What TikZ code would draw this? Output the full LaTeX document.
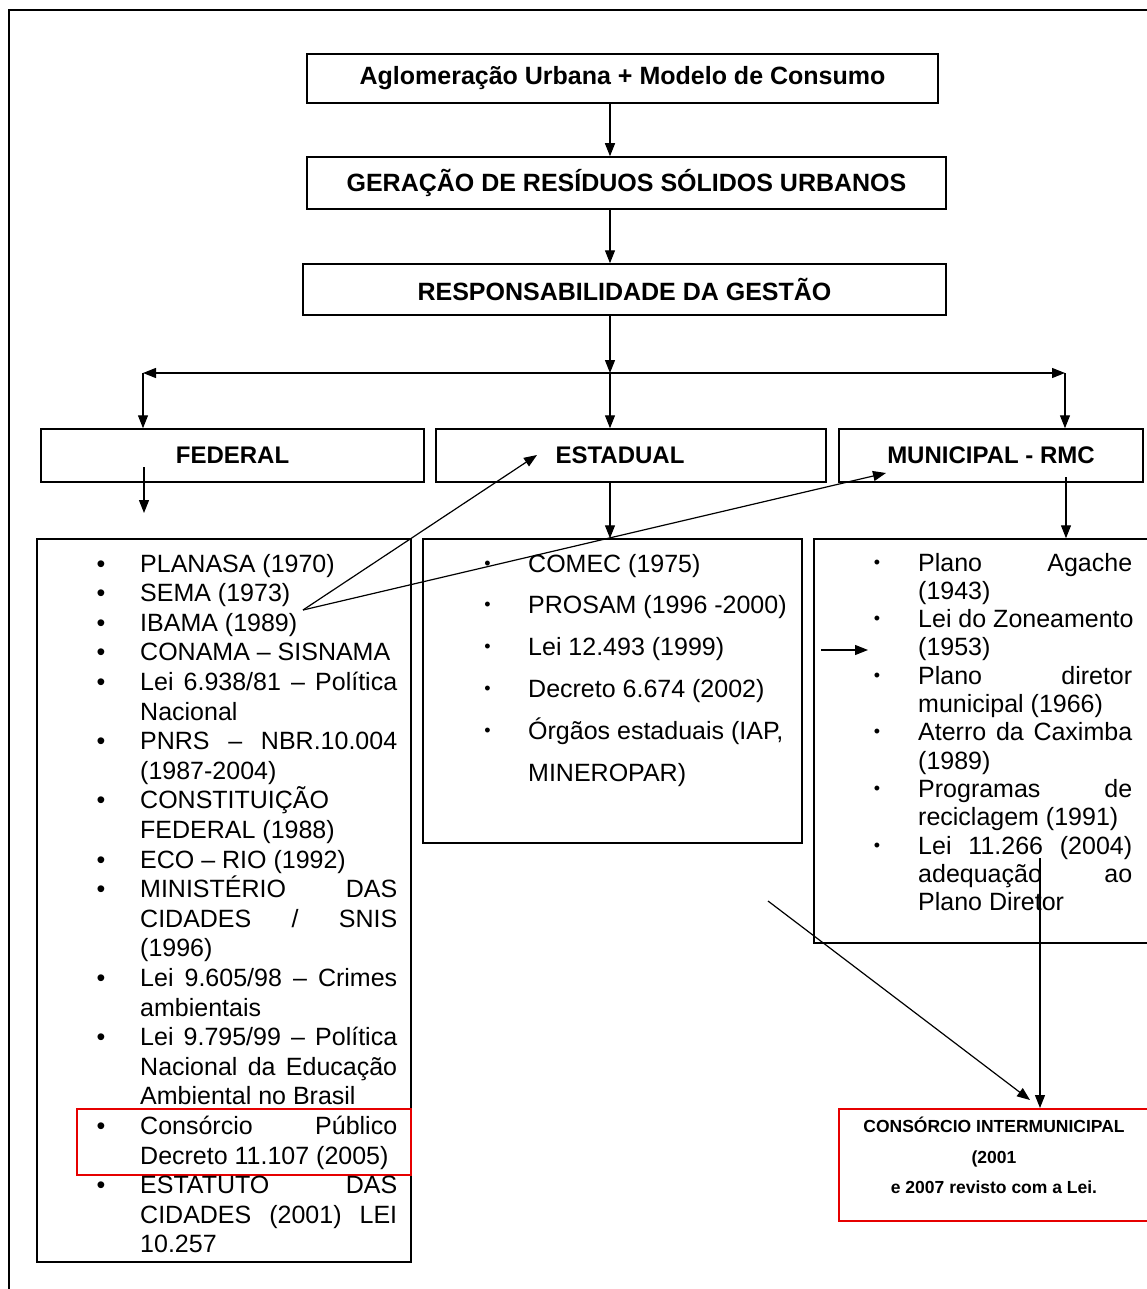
\documentclass[tikz,border=0pt]{standalone}
\usepackage{fontspec}
\setmainfont{Liberation Sans}
\usetikzlibrary{arrows.meta}
\definecolor{boxred}{RGB}{230,0,0}
\begin{document}
\begin{tikzpicture}[x=1pt,y=-1pt,
  link/.style={line width=1.2pt,-{Triangle[length=13pt,width=10pt]}},
  twoway/.style={line width=1.2pt,{Triangle[length=13pt,width=10pt]}-{Triangle[length=13pt,width=10pt]}},
  head/.style={draw,line width=1.5pt,inner sep=0pt,font=\fontsize{25}{30}\selectfont\bfseries},
  tier/.style={draw,line width=1.5pt,inner sep=0pt,font=\fontsize{24}{29}\selectfont\bfseries},
  panel/.style={draw,line width=1.5pt,inner sep=0pt},
  redpanel/.style={draw=boxred,inner sep=0pt},
  item/.style={anchor=base west,inner sep=0pt,font=\fontsize{25}{30}\selectfont},
  bigdot/.style={anchor=base,inner sep=0pt,font=\fontsize{25}{30}\selectfont},
  smalldot/.style={anchor=base,inner sep=0pt,font=\fontsize{18}{20}\selectfont},
  contxt/.style={anchor=base,inner sep=0pt,font=\fontsize{17.5}{20}\selectfont\bfseries}]
\useasboundingbox (0,0) rectangle (1146,1289);
\fill[white] (0,0) rectangle (1146,1289);

% page frame
\draw[line width=2.5pt] (9,1295) -- (9,10) -- (1150,10);

% top chain
\node[head,minimum width=631pt,minimum height=49pt] (agl) at (622.5,78.5) {Aglomeração Urbana + Modelo de Consumo};
\node[head,minimum width=639pt,minimum height=52pt] (ger) at (626.5,183) {GERAÇÃO DE RESÍDUOS SÓLIDOS URBANOS};
\node[head,minimum width=643pt,minimum height=51pt] (res) at (624.5,289.5) {RESPONSABILIDADE DA GESTÃO};

% the three levels
\node[tier,minimum width=383pt,minimum height=53pt] (fed) at (232.5,455.5) {FEDERAL};
\node[tier,minimum width=390pt,minimum height=53pt] (est) at (631,455.5) {\hspace*{-22pt}ESTADUAL};
\node[tier,minimum width=304pt,minimum height=53pt] (mun) at (991,455.5) {MUNICIPAL - RMC};

% list panels
\node[panel,minimum width=374pt,minimum height=723pt] (fedlist) at (224,900.5) {};
\node[panel,minimum width=379pt,minimum height=304pt] (estlist) at (612.5,691) {};
\node[panel,minimum width=336pt,minimum height=404pt] (munlist) at (982,741) {};
\node[redpanel,line width=1.3pt,minimum width=334pt,minimum height=66pt] (consp) at (244,1142) {};
\node[redpanel,line width=2pt,minimum width=311pt,minimum height=112pt] (cons) at (994.5,1165) {};

% federal items
\node[bigdot] (fb1) at (101,572) {•};
\node[item] (f1) at (140,572) {PLANASA (1970)};
\node[bigdot] (fb2) at (101,601.6) {•};
\node[item] (f2) at (140,601.6) {SEMA (1973)};
\node[bigdot] (fb3) at (101,631.2) {•};
\node[item] (f3) at (140,631.2) {IBAMA (1989)};
\node[bigdot] (fb4) at (101,660.8) {•};
\node[item] (f4) at (140,660.8) {CONAMA – SISNAMA};
\node[bigdot] (fb5) at (101,690.4) {•};
\node[item] (f5) at (140,690.4) {\makebox[257pt][s]{Lei 6.938/81 – Política}};
\node[item] (f6) at (140,720) {Nacional};
\node[bigdot] (fb7) at (101,749.6) {•};
\node[item] (f7) at (140,749.6) {\makebox[257pt][s]{PNRS – NBR.10.004}};
\node[item] (f8) at (140,779.2) {(1987-2004)};
\node[bigdot] (fb9) at (101,808.8) {•};
\node[item] (f9) at (140,808.8) {CONSTITUIÇÃO};
\node[item] (f10) at (140,838.4) {FEDERAL (1988)};
\node[bigdot] (fb11) at (101,868) {•};
\node[item] (f11) at (140,868) {ECO – RIO (1992)};
\node[bigdot] (fb12) at (101,897.6) {•};
\node[item] (f12) at (140,897.6) {\makebox[257pt][s]{MINISTÉRIO DAS}};
\node[item] (f13) at (140,927.2) {\makebox[257pt][s]{CIDADES / SNIS}};
\node[item] (f14) at (140,956.8) {(1996)};
\node[bigdot] (fb15) at (101,986.4) {•};
\node[item] (f15) at (140,986.4) {\makebox[257pt][s]{Lei 9.605/98 – Crimes}};
\node[item] (f16) at (140,1016) {ambientais};
\node[bigdot] (fb17) at (101,1045.6) {•};
\node[item] (f17) at (140,1045.6) {\makebox[257pt][s]{Lei 9.795/99 – Política}};
\node[item] (f18) at (140,1075.2) {\makebox[257pt][s]{Nacional da Educação}};
\node[item] (f19) at (140,1104.8) {Ambiental no Brasil};
\node[bigdot] (fb20) at (101,1134.4) {•};
\node[item] (f20) at (140,1134.4) {\makebox[257pt][s]{Consórcio Público}};
\node[item] (f21) at (140,1164) {Decreto 11.107 (2005)};
\node[bigdot] (fb22) at (101,1193.6) {•};
\node[item] (f22) at (140,1193.6) {\makebox[257pt][s]{ESTATUTO DAS}};
\node[item] (f23) at (140,1223.2) {\makebox[257pt][s]{CIDADES (2001) LEI}};
\node[item] (f24) at (140,1252.8) {10.257};

% state items
\node[smalldot] (eb1) at (487.5,569) {•};
\node[item] (e1) at (528,572) {COMEC (1975)};
\node[smalldot] (eb2) at (487.5,610.8) {•};
\node[item] (e2) at (528,613.8) {PROSAM (1996 -2000)};
\node[smalldot] (eb3) at (487.5,652.6) {•};
\node[item] (e3) at (528,655.6) {Lei 12.493 (1999)};
\node[smalldot] (eb4) at (487.5,694.4) {•};
\node[item] (e4) at (528,697.4) {Decreto 6.674 (2002)};
\node[smalldot] (eb5) at (487.5,736.2) {•};
\node[item] (e5) at (528,739.2) {Órgãos estaduais (IAP,};
\node[item] (e6) at (528,781) {MINEROPAR)};

% municipal items
\node[smalldot] (mb1) at (877,568) {•};
\node[item] (m1) at (918,571) {\makebox[214pt][s]{Plano Agache}};
\node[item] (m2) at (918,599.3) {(1943)};
\node[smalldot] (mb3) at (877,624.6) {•};
\node[item] (m3) at (918,627.6) {Lei do Zoneamento};
\node[item] (m4) at (918,655.9) {(1953)};
\node[smalldot] (mb5) at (877,681.2) {•};
\node[item] (m5) at (918,684.2) {\makebox[214pt][s]{Plano diretor}};
\node[item] (m6) at (918,712.5) {municipal (1966)};
\node[smalldot] (mb7) at (877,737.8) {•};
\node[item] (m7) at (918,740.8) {\makebox[214pt][s]{Aterro da Caximba}};
\node[item] (m8) at (918,769.1) {(1989)};
\node[smalldot] (mb9) at (877,794.4) {•};
\node[item] (m9) at (918,797.4) {\makebox[214pt][s]{Programas de}};
\node[item] (m10) at (918,825.7) {reciclagem (1991)};
\node[smalldot] (mb11) at (877,851) {•};
\node[item] (m11) at (918,854) {\makebox[214pt][s]{Lei 11.266 (2004)}};
\node[item] (m12) at (918,882.3) {\makebox[214pt][s]{adequação ao}};
\node[item] (m13) at (918,910.6) {Plano Diretor};

% intermunicipal consortium text
\node[contxt] (con1) at (994,1132) {CONSÓRCIO INTERMUNICIPAL};
\node[contxt] (con2) at (994,1163) {(2001};
\node[contxt] (con3) at (994,1193) {e 2007 revisto com a Lei.};

% connector points
\coordinate (split) at (610,373);
\coordinate (lft) at (143,373);
\coordinate (rgt) at (1065,373);
\coordinate (fedsrc) at (144,467);
\coordinate (fedtip) at (144,513);
\coordinate (munsrc) at (1066,477);
\coordinate (ibama) at (303,610);
\coordinate (esttip) at (537,455);
\coordinate (muntip) at (886,473);
\coordinate (sidesrc) at (821,650);
\coordinate (sidetip) at (868,650);
\coordinate (diagsrc) at (768,901);
\coordinate (diagtip) at (1030,1100);
\coordinate (vsrc) at (1040,858);

% connectors
\draw[link] (split |- agl.south) -- (split |- ger.north);
\draw[link] (split |- ger.south) -- (split |- res.north);
\draw[link] (split |- res.south) -- (split);
\draw[twoway] (lft) -- (rgt);
\draw[link] (lft) -- (lft |- fed.north);
\draw[link] (split) -- (split |- est.north);
\draw[link] (rgt) -- (rgt |- mun.north);
\draw[link] (fedsrc) -- (fedtip);
\draw[link] (split |- est.south) -- (split |- estlist.north);
\draw[link] (munsrc) -- (munsrc |- munlist.north);
\draw[link] (ibama) -- (esttip);
\draw[link] (ibama) -- (muntip);
\draw[link] (sidesrc) -- (sidetip);
\draw[link] (diagsrc) -- (diagtip);
\draw[link] (vsrc) -- (vsrc |- cons.north);
\end{tikzpicture}
\end{document}
